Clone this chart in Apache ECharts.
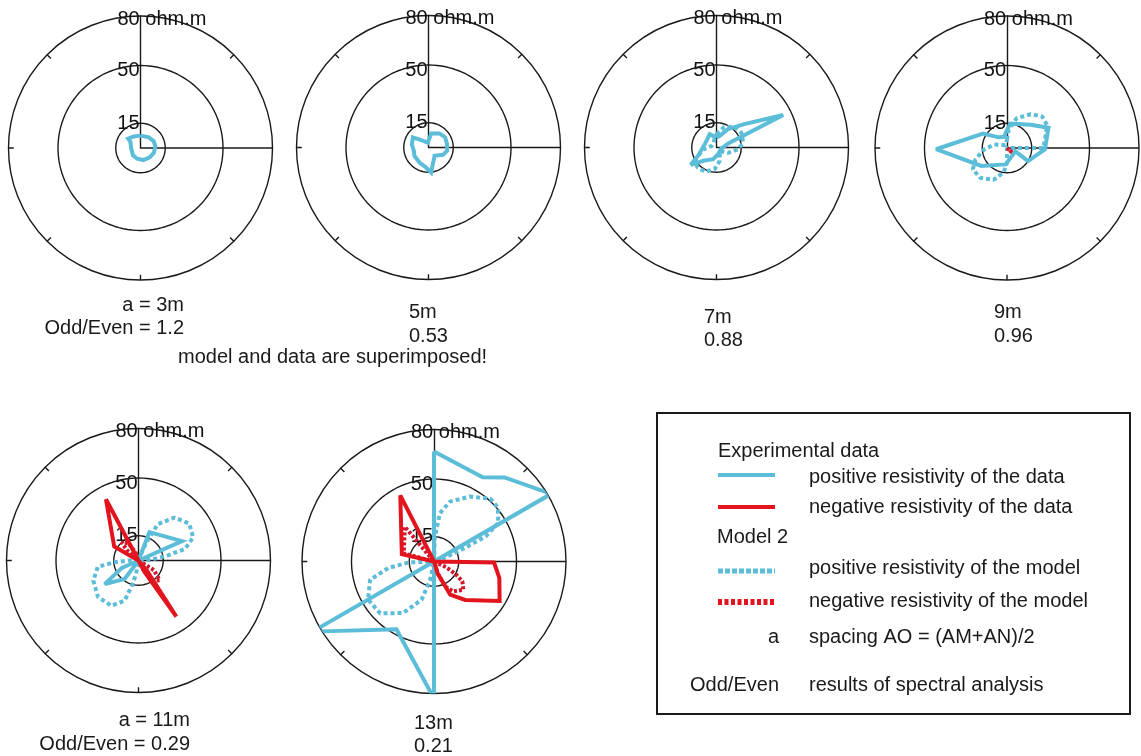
<!DOCTYPE html>
<html>
<head>
<meta charset="utf-8">
<script src="https://cdn.jsdelivr.net/npm/echarts/dist/echarts.min.js"></script>
<style>
  html, body { margin: 0; padding: 0; background: #ffffff; }
  #chart { width: 1141px; height: 756px; }
</style>
</head>
<body>
<div id="chart"></div>
<script>
// Apparent resistivity (ohm.m) versus azimuth (degrees from north, clockwise),
// stored as [azimuth, resistivity] pairs. Positive and negative resistivity are
// kept apart; negative values are given as magnitudes.

const spacings = ['3m', '5m', '7m', '9m', '11m', '13m'];
const oddEvenRatios = ['1.2', '0.53', '0.88', '0.96', '0.29', '0.21'];

const ringValues = [15, 50];
const radiusMax = 80;
const radiusTickValues = [15, 50, 80];
const radiusTickLabels = ['15', '50', '80 ohm.m'];
const rimTickAngles = [45, 135, 180, 225, 270, 315];

// a = 3 m
const dataPos3m = [[0,7.5],[38,8.2],[63,9],[84,9.1],[110,8.6],[135,8],[167,7.5],[197,6.8],[226,6.4],[270,5.7],[301,7.1],[307,9.4],[330,8.1],[360,7.5]];
// a = 5 m
const dataPos5m = [[0,4],[11,8.6],[38,10.8],[59,11.8],[78,11.4],[100,11.5],[117,9.8],[144,6.2],[174,15.2],[187,12.2],[211,10.6],[239,9.9],[257,9.1],[281,10.3],[303,11.3],[315,6.3],[352,3],[360,4]];
// a = 7 m
const dataPos7m = [[0,6],[16,7.4],[32,13.2],[50,22],[64,45],[71,7.5],[111,2.8],[166,4.2],[196,7.4],[225,11.4],[236,18.8],[246,12.2],[286,7.4],[333,9],[360,6]];
const modelPos7m = [[0,8],[20,13],[40,16.7],[60,17.5],[80,16.4],[95,13],[115,7.7],[135,3],[150,4],[166,8.3],[185,13.2],[205,16.2],[224,16.7],[241,14.6],[262,8],[290,3],[320,3],[345,5],[360,8]];
// a = 9 m
const dataPos9m = [[0,11],[8,15],[45,20],[64,28],[92,23],[122,15],[112,5.5],[172,7.5],[185,10],[235,19],[269,43],[301,17],[322,8.2],[345,7],[360,11]];
const modelPos9m = [[0,5],[5,11],[18,19],[35,25],[48,28.6],[60,28],[75,24],[90,22],[95,0],[175,0],[180,9],[188,15],[203,21],[222,24.3],[238,24.4],[250,20.4],[266,14],[285,8],[300,4],[330,2],[360,5]];
const modelNeg9m = [[120,0],[132,5],[145,5],[155,0]];
// a = 11 m
const dataPos11m = [[15,0],[21,18.4],[66,28.8],[75,0],[200,0],[217,14],[235,25],[246,11],[260,0]];
const dataNeg11m = [[130,0],[140,8],[146,41],[152,8],[160,0],[290,0],[300,17],[332,42],[340,0]];
const modelPos11m = [[10,0],[22,8],[25,15],[28,25],[40,34],[54,38],[67,36],[76,29],[80,18],[86,8],[95,0],[185,0],[190,8],[194,14.6],[199,25.7],[211,32],[228,33],[246,30],[261,25],[266,14.6],[270,6],[280,0]];
const modelNeg11m = [[110,0],[122,11],[133,17.6],[145,15],[155,5],[160,0],[300,0],[310,8],[317,15],[330,12],[340,5],[345,0]];
// a = 13 m
const dataPos13m = [[0,66.7],[30,59],[40,66.5],[60,82],[75,0],[175,0],[180,83],[209,47],[240,85],[255,0],[350,0],[360,66.7]];
const dataNeg13m = [[80,0],[91,36.4],[104,40.8],[121,46.4],[141,30],[154,22.4],[163,7.5],[170,0],[270,0],[283,20],[333,45],[340,0]];
const modelPos13m = [[355,0],[2,15],[7,29.5],[15,37.6],[29,45],[42,51.2],[50,50.6],[59,45.4],[64,35],[66,22],[70,8],[80,0],[185,0],[192,11.4],[198,24.4],[211,36.4],[226,45.3],[240,46.1],[254,40.3],[262,28],[268,15],[280,0]];
const modelNeg13m = [[100,0],[115,8],[120,15],[125,21],[134,24.7],[147,21.6],[156,16.5],[162,8],[170,0],[275,0],[285,19],[320,27.5],[326,0]];

const panelData = [
  { pos: dataPos3m,  neg: null,       modelPos: null,        modelNeg: null },
  { pos: dataPos5m,  neg: null,       modelPos: null,        modelNeg: null },
  { pos: dataPos7m,  neg: null,       modelPos: modelPos7m,  modelNeg: null },
  { pos: dataPos9m,  neg: null,       modelPos: modelPos9m,  modelNeg: modelNeg9m },
  { pos: dataPos11m, neg: dataNeg11m, modelPos: modelPos11m, modelNeg: modelNeg11m },
  { pos: dataPos13m, neg: dataNeg13m, modelPos: modelPos13m, modelNeg: modelNeg13m }
];

// ---- layout and styling ----
const panelCenters = [[140.5, 148], [428.5, 147.5], [716.5, 147.5], [1007, 148], [138.5, 560.5], [434, 561.5]];
const panelRadius = 132;
const captionLayout = [
  { x: 184, y: [305, 328], align: 'right', long: true },
  { x: 409, y: [312, 336], align: 'left' },
  { x: 704, y: [317, 340], align: 'left' },
  { x: 994, y: [312, 336], align: 'left' },
  { x: 190, y: [720, 744], align: 'right', long: true },
  { x: 414, y: [723, 746], align: 'left' }
];

const FONT = '"Liberation Sans", Arial, Helvetica, sans-serif';
const INK = '#1a1a1a';
const BLUE = '#5cbdd8';
const RED = '#e2141e';
const RED_MODEL = '#d3172a';

const toPolar = pts => pts.map(([az, v]) => [v, az]);

function ringData() {
  const pts = [];
  ringValues.forEach((v, k) => {
    if (k > 0) pts.push('-');
    for (let a = 0; a <= 360; a += 3) pts.push([v, a]);
  });
  return pts;
}

function rimTickData() {
  const pts = [];
  rimTickAngles.forEach((a, k) => {
    if (k > 0) pts.push('-');
    pts.push([radiusMax - 3.2, a], [radiusMax + 3.2, a]);
  });
  return pts;
}

const series = [];
panelCenters.forEach((c, i) => {
  const base = { type: 'line', coordinateSystem: 'polar', polarIndex: i, symbol: 'none', silent: true, clip: false, animation: false };
  // inner rings
  series.push(Object.assign({}, base, { data: ringData(), connectNulls: false, lineStyle: { color: INK, width: 1.4 } }));
  // east reference axis
  series.push(Object.assign({}, base, { data: [[0, 90], [radiusMax, 90]], lineStyle: { color: INK, width: 1.4 } }));
  // rim ticks
  series.push(Object.assign({}, base, { data: rimTickData(), connectNulls: false, lineStyle: { color: INK, width: 1.4 } }));
  // radius labels on the north axis
  series.push({
    type: 'scatter', coordinateSystem: 'polar', polarIndex: i, silent: true, clip: false, animation: false,
    symbol: 'circle', symbolSize: 0.1, itemStyle: { color: INK, opacity: 1 },
    data: radiusTickValues.map((v, k) => ({
      value: [v, 0],
      label: k === radiusTickValues.length - 1
        ? { align: 'left', offset: [-23, 3] }
        : { align: 'right', offset: [-1, k === 0 ? 0 : 5] }
    })),
    label: {
      show: true, position: 'inside', verticalAlign: 'middle', opacity: 1,
      color: '#111111', fontFamily: FONT, fontSize: 20,
      textBorderWidth: 0, textBorderColor: 'transparent', textShadowBlur: 0,
      formatter: p => radiusTickLabels[p.dataIndex]
    }
  });

  const d = panelData[i];
  if (d.modelPos) series.push(Object.assign({}, base, { data: toPolar(d.modelPos), lineStyle: { color: BLUE, width: 4, type: [4, 3], cap: 'butt' } }));
  if (d.modelNeg) series.push(Object.assign({}, base, { data: toPolar(d.modelNeg), lineStyle: { color: RED_MODEL, width: 4, type: [3, 2], cap: 'butt' } }));
  if (d.pos) series.push(Object.assign({}, base, { data: toPolar(d.pos), lineStyle: { color: BLUE, width: 4, join: 'miter', miterLimit: 3 } }));
  if (d.neg) series.push(Object.assign({}, base, { data: toPolar(d.neg), lineStyle: { color: RED, width: 4, join: 'miter', miterLimit: 3 } }));
});

// captions under each diagram and the legend box
function text(x, y, str, align) {
  return {
    type: 'text', x: x, y: y, silent: true,
    style: {
      text: str, font: '20px ' + FONT, fill: INK,
      align: align || 'left', verticalAlign: 'middle',
      textAlign: align || 'left', textVerticalAlign: 'middle'
    }
  };
}
function sample(y, color, width, dash) {
  return {
    type: 'line', silent: true,
    shape: { x1: 718, y1: y, x2: 775, y2: y },
    style: { stroke: color, lineWidth: width, lineDash: dash || null, lineCap: 'butt' }
  };
}

const graphics = [];
captionLayout.forEach((c, i) => {
  const first = c.long ? 'a = ' + spacings[i] : spacings[i];
  const second = c.long ? 'Odd/Even = ' + oddEvenRatios[i] : oddEvenRatios[i];
  graphics.push(text(c.x, c.y[0], first, c.align));
  graphics.push(text(c.x, c.y[1], second, c.align));
});
graphics.push(text(178, 357, 'model and data are superimposed!'));

graphics.push({
  type: 'rect', silent: true,
  shape: { x: 657, y: 413, width: 473, height: 301 },
  style: { fill: 'none', stroke: INK, lineWidth: 2 }
});
graphics.push(text(718, 451, 'Experimental data'));
graphics.push(sample(475, BLUE, 4));
graphics.push(text(809, 477, 'positive resistivity of the data'));
graphics.push(sample(507, RED, 4));
graphics.push(text(809, 507, 'negative resistivity of the data'));
graphics.push(text(717, 537, 'Model 2'));
graphics.push(sample(571, BLUE, 5, [5, 2]));
graphics.push(text(809, 568, 'positive resistivity of the model'));
graphics.push(sample(602, RED, 6, [4, 2.5]));
graphics.push(text(809, 601, 'negative resistivity of the model'));
graphics.push(text(779, 637, 'a', 'right'));
graphics.push(text(809, 637, 'spacing AO = (AM+AN)/2'));
graphics.push(text(779, 685, 'Odd/Even', 'right'));
graphics.push(text(809, 685, 'results of spectral analysis'));

const chart = echarts.init(document.getElementById('chart'), null, { renderer: 'canvas' });
chart.setOption({
  animation: false,
  backgroundColor: '#ffffff',
  polar: panelCenters.map(c => ({ center: c, radius: panelRadius })),
  angleAxis: panelCenters.map((c, i) => ({
    polarIndex: i, type: 'value', min: 0, max: 360, interval: 45,
    startAngle: 90, clockwise: true,
    axisLine: { show: true, lineStyle: { color: INK, width: 1.4 } },
    axisTick: { show: false }, axisLabel: { show: false }, splitLine: { show: false }
  })),
  radiusAxis: panelCenters.map((c, i) => ({
    polarIndex: i, type: 'value', min: 0, max: radiusMax,
    axisLine: { show: true, lineStyle: { color: INK, width: 1.4 } },
    axisTick: { show: false }, axisLabel: { show: false }, splitLine: { show: false }
  })),
  series: series,
  graphic: { elements: graphics }
});
</script>
</body>
</html>
